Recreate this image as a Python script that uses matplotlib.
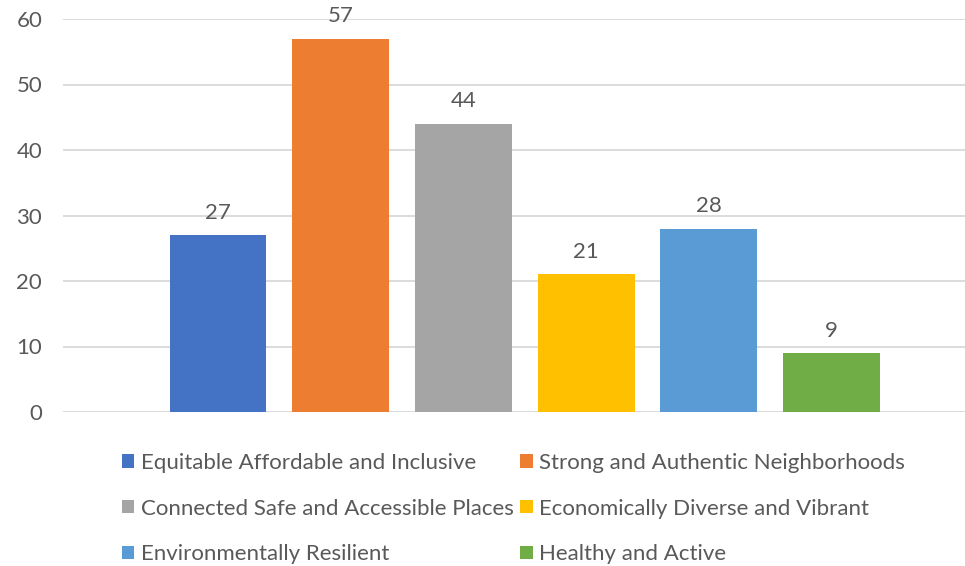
import matplotlib.pyplot as plt
from matplotlib.patches import Patch

plt.rcParams['font.family'] = ['Lato', 'DejaVu Sans']

# data
categories = ['Equitable Affordable and Inclusive', 'Strong and Authentic Neighborhoods',
              'Connected Safe and Accessible Places', 'Economically Diverse and Vibrant',
              'Environmentally Resilient', 'Healthy and Active']
values = [27, 57, 44, 21, 28, 9]
colors = ['#4472C4', '#ED7D31', '#A5A5A5', '#FFC000', '#5B9BD5', '#70AD47']
yticks = [0, 10, 20, 30, 40, 50, 60]

text_color = '#595959'
grid_color = '#D9D9D9'

fig = plt.figure(figsize=(9.65, 5.66), dpi=100)
ax = fig.add_axes([63 / 965, 154 / 566, 1 - 63 / 965, (412 - 19) / 566])

x = list(range(len(values)))
bars = ax.bar(x, values, width=0.79, color=colors, zorder=3)
ax.bar_label(bars, labels=[str(v) for v in values], padding=9,
             fontsize=16, color=text_color)

ax.set_xlim(-1.263, 6.088)
ax.set_ylim(0, 60)
ax.set_yticks(yticks)
ax.set_xticks([])
ax.grid(axis='y', color=grid_color, linewidth=1.3, zorder=0)
ax.tick_params(axis='y', length=0, pad=15, labelsize=16, labelcolor=text_color)
for s in ax.spines.values():
    s.set_visible(False)

# legend is filled by column, so reorder to get the row order of the picture
order = [0, 2, 4, 1, 3, 5]
handles = [Patch(facecolor=colors[i], label=categories[i]) for i in order]
leg = fig.legend(handles=handles, ncol=2, loc='upper left',
                 bbox_to_anchor=(122 / 965, 1 - 453 / 566), frameon=False,
                 fontsize=16, handlelength=0.55, handleheight=0.55,
                 handletextpad=0.3, columnspacing=0.3, labelspacing=1.15,
                 borderpad=0, borderaxespad=0)
for t in leg.get_texts():
    t.set_color(text_color)

fig.savefig('out.png', dpi=100)
